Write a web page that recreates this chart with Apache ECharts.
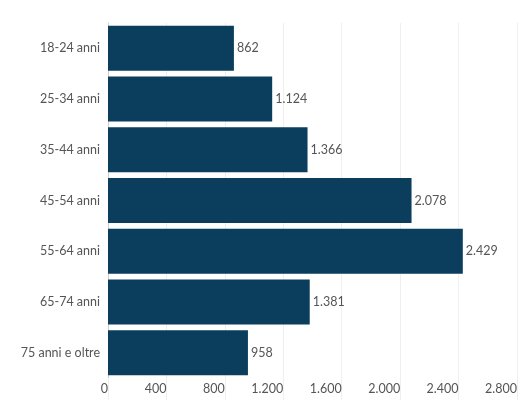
<!DOCTYPE html>
<html>
<head>
<meta charset="utf-8">
<script src="https://cdn.jsdelivr.net/npm/echarts@6/dist/echarts.min.js"></script>
<style>
html,body{margin:0;padding:0;background:#fff;}
#c{width:520px;height:400px;}
</style>
</head>
<body>
<div id="c"></div>
<script>
var categories = ['18-24 anni','25-34 anni','35-44 anni','45-54 anni','55-64 anni','65-74 anni','75 anni e oltre'];
var values = [862, 1124, 1366, 2078, 2429, 1381, 958];
var xTicks = [0, 400, 800, 1200, 1600, 2000, 2400, 2800];

function fmt(v){
  return String(v).replace(/\B(?=(\d{3})+(?!\d))/g, '.');
}

var chart = echarts.init(document.getElementById('c'), null, {renderer:'canvas'});
chart.setOption({
  animation: false,
  backgroundColor: '#ffffff',
  textStyle: {fontFamily: 'Lato'},
  grid: {left: 108, width: 414, top: 23, bottom: 22, containLabel: false},
  xAxis: {
    type: 'value',
    min: xTicks[0],
    max: xTicks[xTicks.length-1],
    interval: 400,
    axisLine: {show: false},
    axisTick: {show: true, length: 22, lineStyle: {color: '#efefef'}},
    splitLine: {show: true, lineStyle: {color: '#efefef', width: 1}},
    axisLabel: {
      color: '#555', fontSize: 12.5, fontFamily: 'Lato', align: 'right', margin: 4,
      formatter: function(v){ return fmt(v); }
    }
  },
  yAxis: {
    type: 'category',
    inverse: true,
    data: categories,
    axisLine: {show: true, lineStyle: {color: '#d0d0d0', width: 1}},
    axisTick: {show: false},
    axisLabel: {color: '#555', fontSize: 12.5, fontFamily: 'Lato', margin: 8}
  },
  series: [{
    type: 'bar',
    data: values,
    barWidth: 45,
    itemStyle: {color: '#0b3e5c'},
    label: {
      show: true, position: 'right', distance: 3,
      color: '#555', fontSize: 12.5, fontFamily: 'Lato',
      formatter: function(p){ return fmt(p.value); }
    }
  }]
});
</script>
</body>
</html>
